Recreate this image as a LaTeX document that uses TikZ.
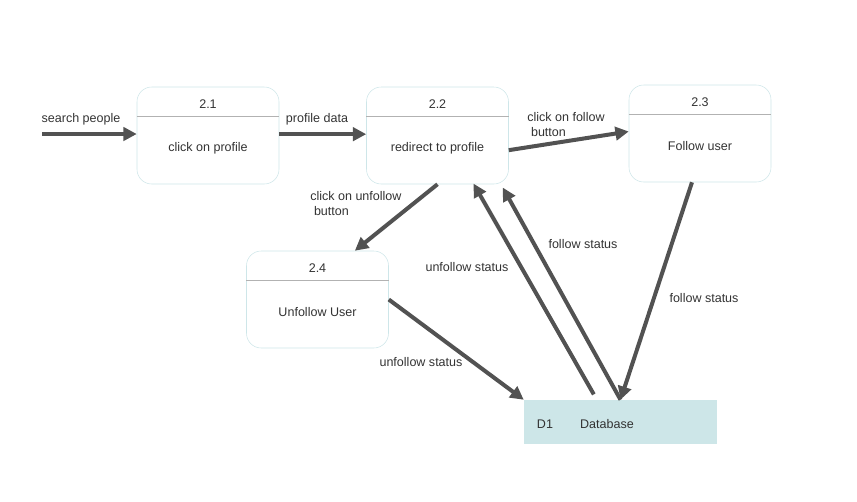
\documentclass[tikz,border=0pt]{standalone}
\usepackage{fontspec}
\setmainfont{Liberation Sans}
\usetikzlibrary{arrows.meta, positioning}
\definecolor{flowgray}{RGB}{82,82,82}
\definecolor{labelgray}{RGB}{51,51,51}
\definecolor{boxedge}{RGB}{206,230,233}
\definecolor{divgray}{RGB}{178,178,178}
\definecolor{storefill}{RGB}{205,230,232}

\begin{document}
\begin{tikzpicture}[x=0.75pt, y=-0.75pt, font=\fontsize{9.4}{11.25}\selectfont,
	process/.style={draw=boxedge, fill=white, rounded corners=11pt, minimum width=106.5pt, minimum height=72.75pt, inner sep=0pt},
	store/.style={fill=storefill, minimum width=144.75pt, minimum height=33pt, inner sep=0pt},
	divider/.style={draw=divgray, line width=0.9pt},
	boxtext/.style={text=labelgray, inner sep=0pt},
	lbl/.style={text=labelgray, inner sep=0pt, align=left},
	flow/.style={draw=flowgray, line width=3pt, -{Triangle[length=10pt,width=10pt]}}]
	% Fix the page size
	\useasboundingbox (0,0) rectangle (857,501);

	% Draw the process boxes
	\foreach \name/\cx/\cy/\num/\txt in {p1/208/135.5/2.1/click on profile, p2/437.5/135.5/2.2/redirect to profile, p3/700/133.5/2.3/Follow user, p4/317.5/299.5/2.4/Unfollow User} {
		\node[process] (\name) at (\cx,\cy) {};
		% Line under the number
		\draw[divider] ([yshift=-22.5pt]\name.north west) -- ([yshift=-22.5pt]\name.north east);
		\node[boxtext] (\name-num) at ([yshift=-12.75pt]\name.north) {\num};
		\node[boxtext] (\name-txt) at ([yshift=-9.4pt]\name.center) {\txt};
	}

	% Data store
	\node[store] (db) at (620.5,422) {};
	\node[boxtext] (db-id) at (545,424) {D1};
	\node[boxtext] (db-txt) at (607,424) {Database};

	% Outside input
	\coordinate (sp) at (42,134);
	\node[lbl] (sp-lbl) at (81,119) {search people};

	% Draw the flows
	\draw[flow] (sp) -- (sp -| p1.west);
	\draw[flow] ([yshift=1pt]p1.east) -- ([yshift=1pt]p2.west);
	\draw[flow] ([yshift=-11pt]p2.east) -- ([yshift=1.5pt]p3.west);
	\draw[flow] (p2.south) -- ([xshift=28pt]p4.north);
	\draw[flow] (p4.east) -- (db.north west);
	\draw[flow] ([xshift=-6pt]p3.south) -- (db.north);
	\draw[flow] ([xshift=-20pt,yshift=4pt]db.north) -- ([xshift=27pt,yshift=0.5pt]p2.south);
	\draw[flow] (db.north) -- ([xshift=49pt,yshift=-2.5pt]p2.south);

	% Flow labels
	\node[lbl] (pd-lbl) at (317,119) {profile data};
	\node[lbl, anchor=north west] (cf-lbl) at (527,112) {click on follow\\\hspace*{0.3em}button};
	\node[lbl, anchor=north west] (cu-lbl) at (310,191) {click on unfollow\\\hspace*{0.3em}button};
	\node[lbl] (us1-lbl) at (467,267) {unfollow status};
	\node[lbl] (fs1-lbl) at (583,244) {follow status};
	\node[lbl] (fs2-lbl) at (704,298) {follow status};
	\node[lbl] (us2-lbl) at (421,362) {unfollow status};
\end{tikzpicture}
\end{document}
